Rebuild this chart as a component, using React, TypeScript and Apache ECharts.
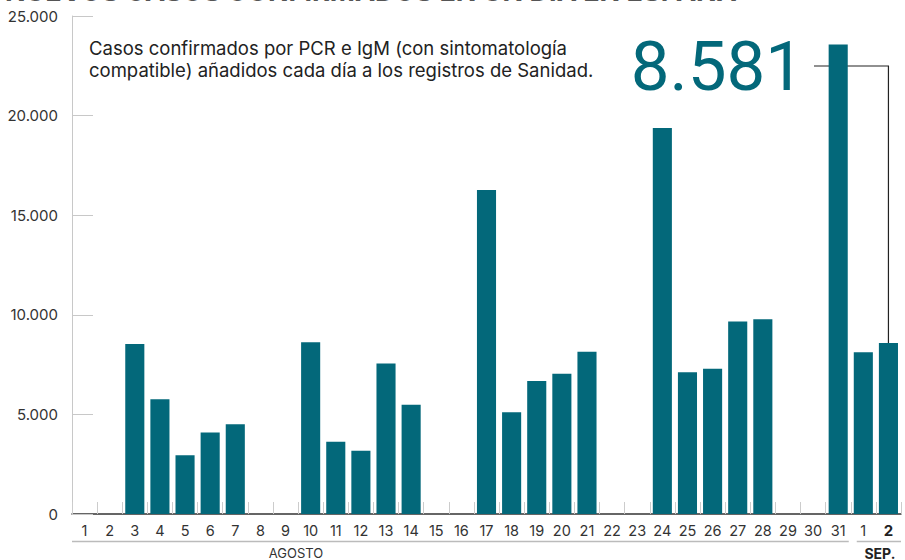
import React, { useEffect, useRef } from "react";
import * as echarts from "echarts";

const days = ["1","2","3","4","5","6","7","8","9","10","11","12","13","14","15","16","17","18","19","20","21","22","23","24","25","26","27","28","29","30","31","1","2"];
const cases = [0,0,8532,5760,2953,4088,4507,0,0,8618,3632,3172,7550,5479,0,0,16269,5114,6671,7039,8148,0,0,19382,7117,7296,9658,9779,0,0,23572,8115,8581];
const yTicks = [0, 5000, 10000, 15000, 20000, 25000];
const monthLabels = ["AGOSTO", "SEP."];
const highlightValue = "8.581";
const titleText = "NUEVOS CASOS CONFIRMADOS EN UN DÍA EN ESPAÑA";
const subtitleText = "Casos confirmados por PCR e IgM (con sintomatología\ncompatible) añadidos cada día a los registros de Sanidad.";

const TEAL = "#03687a";
const FONT = "Inter, 'Noto Sans', sans-serif";

export default function App() {
  const ref = useRef<HTMLDivElement>(null);
  useEffect(() => {
    if (!ref.current) return;
    const chart = echarts.init(ref.current, null, { renderer: "svg" });
    const fmt = (v: number) => (v === 0 ? "0" : v.toLocaleString("de-DE"));
    chart.setOption({
      animation: false,
      textStyle: { fontFamily: FONT },
      grid: { left: 72, right: 4, top: 16, bottom: 46 },
      xAxis: {
        type: "category",
        data: days,
        axisLine: { lineStyle: { color: "#333", width: 1.5 } },
        axisTick: { show: true, inside: true, length: 12, interval: 0, lineStyle: { color: "#ccc" } },
        axisLabel: {
          interval: 0,
          color: "#333",
          fontSize: 14.5,
          margin: 9,
          fontFamily: FONT,
          formatter: (v: string, i: number) => (i === days.length - 1 ? "{b|" + v + "}" : v),
          rich: { b: { fontWeight: "bold", fontSize: 15, color: "#222", fontFamily: FONT } },
        },
      },
      yAxis: {
        type: "value",
        min: yTicks[0],
        max: yTicks[yTicks.length - 1],
        interval: 5000,
        splitLine: { show: false },
        axisLine: { show: true, lineStyle: { color: "#c8c8c8" } },
        axisTick: { show: true, inside: true, length: 21, lineStyle: { color: "#c8c8c8" } },
        axisLabel: { color: "#333", fontSize: 15, margin: 14, formatter: fmt, fontFamily: FONT },
      },
      series: [
        {
          type: "bar",
          data: cases,
          barWidth: "76%",
          itemStyle: { color: TEAL },
        },
      ],
    });

    const n = days.length;
    const xOf = (i: number) => chart.convertToPixel({ xAxisIndex: 0 }, i) as number;
    const yOf = (v: number) => chart.convertToPixel({ yAxisIndex: 0 }, v) as number;
    const step = xOf(1) - xOf(0);
    const augStart = xOf(0) - step / 2;
    const augEnd = xOf(30) + step / 2 - 2;
    const sepStart = xOf(31) - step / 2 + 6;
    const sepEnd = xOf(n - 1) + step / 2;
    const lineY = 541.5;
    const lastX = xOf(n - 1);
    const lastTop = yOf(cases[n - 1]) + 2;

    chart.setOption({
      graphic: [
        {
          type: "text",
          x: 5,
          y: -22,
          style: { text: titleText, fill: "#555", font: "bold 27px " + FONT, align: "left", verticalAlign: "top" },
        },
        {
          type: "text",
          x: 89,
          y: 37,
          style: { text: subtitleText, fill: "#222", fontSize: 18.5, fontFamily: FONT, lineHeight: 22, align: "left", verticalAlign: "top" },
        },
        {
          type: "text",
          x: 804,
          y: 66,
          style: { text: highlightValue, fill: TEAL, fontSize: 69, fontFamily: "Roboto, sans-serif", align: "right", verticalAlign: "middle" },
        },
        {
          type: "polyline",
          shape: { points: [[814, 66], [lastX, 66], [lastX, lastTop]] },
          style: { stroke: "#222", lineWidth: 1.2, fill: "none" },
        },
        {
          type: "line",
          shape: { x1: augStart, y1: lineY, x2: augEnd, y2: lineY },
          style: { stroke: "#bbb", lineWidth: 1.5 },
        },
        {
          type: "line",
          shape: { x1: sepStart, y1: lineY, x2: sepEnd, y2: lineY },
          style: { stroke: "#bbb", lineWidth: 1.5 },
        },
        {
          type: "text",
          x: 296,
          y: 553,
          style: { text: monthLabels[0], fill: "#333", fontSize: 13, fontFamily: FONT, align: "center", verticalAlign: "middle" },
        },
        {
          type: "text",
          x: (xOf(31) + xOf(32)) / 2 + 4,
          y: 553,
          style: { text: monthLabels[1], fill: "#222", fontSize: 14, fontWeight: "bold", fontFamily: FONT, align: "center", verticalAlign: "middle" },
        },
      ],
    });
    return () => chart.dispose();
  }, []);
  return <div ref={ref} style={{ width: 905, height: 560, position: "absolute", left: 0, top: 0 }} />;
}
